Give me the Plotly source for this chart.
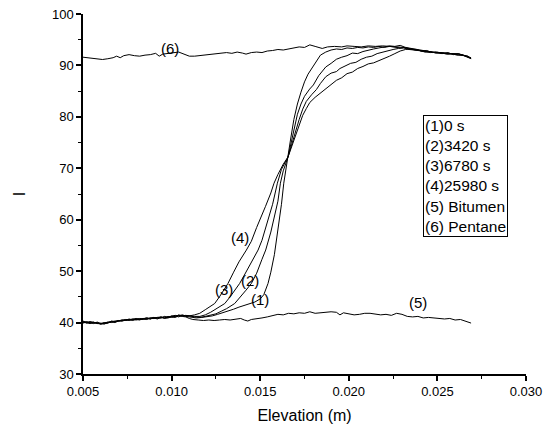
import plotly.graph_objects as go

# ---------------- data ----------------
x_low = [0.0050, 0.0052, 0.0054, 0.0056, 0.0058, 0.0060, 0.0062, 0.0064, 0.0066, 0.0068,
         0.0070, 0.0072, 0.0074, 0.0076, 0.0078, 0.0080, 0.0082, 0.0084, 0.0086, 0.0088,
         0.0090, 0.0092, 0.0094, 0.0096, 0.0098, 0.0100, 0.0102, 0.0104, 0.0106, 0.0108]

# (1) 0 s
s1_low = [40.0, 40.2, 39.9, 40.1, 39.8, 39.9, 39.7, 40.0, 40.1, 40.3, 40.2, 40.5, 40.4, 40.5, 40.7,
          40.6, 40.5, 40.8, 40.7, 40.9, 40.8, 41.0, 40.9, 41.1, 41.0, 41.2, 41.3, 41.1, 41.4, 41.2]
s1_x = [0.0111, 0.0114, 0.0117, 0.0120, 0.0123, 0.0126, 0.0129, 0.0132, 0.0135, 0.0138, 0.0141,
        0.0144, 0.0147, 0.0150, 0.0152, 0.01544, 0.0156, 0.0158, 0.0160, 0.0161, 0.0162, 0.01633,
        0.0165, 0.01657, 0.0167, 0.0169, 0.0171, 0.0173, 0.0175, 0.0177, 0.0180, 0.0182, 0.0184,
        0.0187, 0.0190, 0.0193, 0.0196, 0.0199, 0.0202, 0.0205, 0.0208, 0.0211, 0.0214, 0.0217,
        0.0220, 0.0223, 0.0226, 0.0229, 0.0232, 0.0235, 0.0238, 0.0241, 0.0244, 0.0247, 0.0250,
        0.0253, 0.0256, 0.0259, 0.0262, 0.0265, 0.0267, 0.0269]
s1_y = [41.0, 40.9, 41.0, 41.1, 41.3, 41.6, 41.9, 42.2, 42.6, 43.0, 43.3, 43.6, 44.0, 44.6, 45.4,
        47.6, 49.8, 53.2, 58.0, 60.6, 63.0, 67.1, 70.5, 72.2, 75.3, 79.5, 82.5, 84.8, 86.8, 88.3,
        90.0, 91.0, 92.0, 92.6, 93.0, 93.2, 93.1, 93.4, 93.3, 93.5, 93.4, 93.6, 93.5, 93.7, 93.5,
        93.7, 93.6, 93.4, 93.5, 93.2, 93.1, 92.8, 92.9, 92.5, 92.6, 92.3, 92.5, 92.1, 92.3, 91.9,
        91.8, 91.3]

# (2) 3420 s
s2_low = [40.3, 40.0, 40.2, 40.0, 39.9, 39.8, 40.0, 39.9, 40.3, 40.2, 40.4, 40.5, 40.4, 40.7, 40.5,
          40.6, 40.8, 40.7, 40.6, 40.9, 41.0, 40.8, 41.1, 40.9, 41.2, 41.0, 41.2, 41.4, 41.3, 41.3]
s2_x = [0.0110, 0.0113, 0.0116, 0.0119, 0.0122, 0.0125, 0.0128, 0.0131, 0.01356, 0.0139, 0.0142,
        0.0145, 0.0148, 0.0151, 0.01531, 0.0156, 0.01582, 0.0160, 0.01614, 0.0163, 0.01657, 0.0168,
        0.0171, 0.0173, 0.0175, 0.01779, 0.0180, 0.0183, 0.0185, 0.0187, 0.0190, 0.0193, 0.0196,
        0.0199, 0.0202, 0.0205, 0.0208, 0.0211, 0.0214, 0.0217, 0.0220, 0.0223, 0.0226, 0.0229,
        0.0232, 0.0235, 0.0238, 0.0241, 0.0244, 0.0247, 0.0250, 0.0253, 0.0256, 0.0259, 0.0262,
        0.0265, 0.0267, 0.0269]
s2_y = [41.3, 41.1, 41.0, 41.2, 41.4, 41.7, 42.2, 42.7, 43.7, 45.0, 46.3, 47.6, 49.6, 52.3, 54.1,
        57.6, 60.6, 63.6, 67.1, 69.5, 72.2, 76.0, 80.5, 82.5, 84.0, 85.4, 86.2, 88.0, 88.8, 89.7,
        90.4, 91.2, 91.6, 91.9, 92.4, 92.3, 92.7, 93.0, 93.2, 93.4, 93.6, 93.8, 93.7, 93.9, 93.5,
        93.3, 93.2, 92.9, 92.8, 92.6, 92.5, 92.4, 92.3, 92.2, 92.2, 91.9, 91.7, 91.4]

# (3) 6780 s
s3_low = [39.9, 40.1, 40.0, 39.8, 40.1, 39.8, 39.9, 40.1, 40.0, 40.2, 40.4, 40.3, 40.5, 40.6, 40.4,
          40.7, 40.6, 40.8, 40.9, 40.7, 41.0, 40.9, 40.9, 41.2, 41.0, 41.3, 41.1, 41.5, 41.3, 41.4]
s3_x = [0.0110, 0.0113, 0.0116, 0.0119, 0.0122, 0.0125, 0.0128, 0.0130, 0.0133, 0.01355, 0.01384,
        0.0141, 0.0144, 0.0147, 0.01488, 0.0151, 0.0153, 0.0155, 0.0157, 0.01597, 0.0162, 0.01657,
        0.0168, 0.0170, 0.0172, 0.0174, 0.0176, 0.0179, 0.01817, 0.0184, 0.0187, 0.0190, 0.0193,
        0.0195, 0.0198, 0.0201, 0.0204, 0.0207, 0.0210, 0.0213, 0.0216, 0.0219, 0.0222, 0.0225,
        0.0228, 0.0231, 0.0234, 0.0237, 0.0240, 0.0243, 0.0246, 0.0249, 0.0252, 0.0255, 0.0258,
        0.0261, 0.0264, 0.0267, 0.0269]
s3_y = [41.3, 41.2, 41.2, 41.5, 42.0, 42.6, 43.2, 43.7, 45.0, 46.2, 47.6, 49.2, 51.2, 53.0, 54.1,
        56.0, 58.5, 60.6, 63.0, 67.1, 69.8, 72.2, 75.0, 77.5, 79.5, 81.5, 83.0, 84.3, 85.3, 86.5,
        87.8, 88.5, 88.8, 89.4, 89.9, 90.4, 90.6, 91.2, 91.6, 91.8, 92.3, 92.6, 92.8, 93.1, 93.3,
        93.4, 93.1, 93.0, 92.9, 92.6, 92.7, 92.4, 92.5, 92.2, 92.3, 92.0, 92.1, 91.7, 91.5]

# (4) 25980 s
s4_low = [40.1, 40.0, 39.8, 40.0, 39.9, 39.7, 39.9, 40.0, 40.2, 40.0, 40.3, 40.4, 40.6, 40.5, 40.6,
          40.8, 40.6, 40.7, 40.9, 40.8, 40.8, 41.0, 41.1, 40.9, 41.1, 41.2, 41.4, 41.3, 41.5, 41.3]
s4_x = [0.0110, 0.0113, 0.01159, 0.0119, 0.0122, 0.01243, 0.0127, 0.0130, 0.01318, 0.0135, 0.0138,
        0.01422, 0.0145, 0.0148, 0.01507, 0.0153, 0.0156, 0.01578, 0.0160, 0.0163, 0.01657, 0.0168,
        0.0170, 0.0172, 0.0174, 0.0176, 0.0178, 0.0181, 0.0184, 0.01874, 0.0190, 0.0193, 0.0196,
        0.0199, 0.0202, 0.0205, 0.0208, 0.0211, 0.0214, 0.0217, 0.0220, 0.0223, 0.0226, 0.0229,
        0.0232, 0.0235, 0.0238, 0.0241, 0.0244, 0.0247, 0.0250, 0.0253, 0.0256, 0.0259, 0.0262,
        0.0265, 0.0267, 0.0269]
s4_y = [41.3, 41.5, 41.8, 42.5, 43.2, 43.7, 45.0, 46.6, 47.6, 49.8, 51.8, 54.1, 55.8, 58.5, 60.6,
        62.6, 65.2, 67.1, 68.8, 70.8, 72.2, 74.5, 76.5, 78.6, 80.3, 81.6, 82.8, 83.8, 84.6, 85.6,
        86.3, 87.1, 87.6, 88.4, 88.7, 89.4, 89.8, 90.3, 90.5, 90.9, 91.4, 91.8, 92.3, 92.8, 93.1,
        93.2, 93.0, 92.8, 92.7, 92.6, 92.4, 92.5, 92.2, 92.3, 92.0, 91.9, 91.6, 91.3]

# (5) Bitumen
s5_low = [40.2, 39.9, 40.1, 39.9, 40.0, 39.7, 39.8, 39.9, 40.2, 40.1, 40.4, 40.3, 40.6, 40.4, 40.6,
          40.5, 40.7, 40.6, 40.8, 40.7, 40.9, 40.7, 41.0, 40.8, 40.9, 41.1, 41.0, 41.3, 41.2, 41.1]
s5_x = [0.0110, 0.0112, 0.0115, 0.0118, 0.0121, 0.0124, 0.0127, 0.0130, 0.0133, 0.0136, 0.0139,
        0.0141, 0.0143, 0.0145, 0.0148, 0.0151, 0.0154, 0.0157, 0.0160, 0.0163, 0.0166, 0.0169,
        0.0172, 0.0175, 0.0178, 0.0181, 0.0184, 0.0187, 0.0190, 0.0193, 0.0195, 0.0197, 0.0200,
        0.0203, 0.0206, 0.0209, 0.0212, 0.0215, 0.0218, 0.0221, 0.0224, 0.0227, 0.0230, 0.0233,
        0.0236, 0.0239, 0.0242, 0.0245, 0.0248, 0.0251, 0.0254, 0.0257, 0.0260, 0.0263, 0.0266,
        0.0269]
s5_y = [40.8, 40.6, 40.5, 40.4, 40.5, 40.4, 40.5, 40.6, 40.5, 40.7, 40.8, 40.5, 40.3, 40.6, 40.7,
        40.9, 41.1, 41.3, 41.6, 41.5, 41.8, 41.7, 41.9, 41.8, 42.1, 41.8, 41.9, 42.0, 42.1, 42.0,
        41.5, 41.9, 41.7, 41.5, 41.6, 41.8, 41.8, 41.6, 41.5, 41.6, 41.4, 41.8, 41.6, 41.2, 41.1,
        41.2, 40.9, 41.0, 40.9, 40.9, 40.7, 40.8, 40.5, 40.6, 40.2, 39.9]

# (6) Pentane
s6_x = [0.0050, 0.0053, 0.0056, 0.0059, 0.0061, 0.0064, 0.0067, 0.0069, 0.0071, 0.0073, 0.0076,
        0.0079, 0.0082, 0.0085, 0.0088, 0.0091, 0.0093, 0.0095, 0.0098, 0.0101, 0.0104, 0.0107,
        0.0110, 0.0113, 0.0116, 0.0119, 0.0122, 0.0125, 0.0128, 0.0131, 0.0134, 0.0137, 0.0140,
        0.0142, 0.0145, 0.0148, 0.0151, 0.0154, 0.0157, 0.0160, 0.0163, 0.0166, 0.0169, 0.0172,
        0.0175, 0.0178, 0.0181, 0.0185, 0.0188, 0.0192, 0.0196, 0.0199, 0.0203, 0.0207, 0.0211,
        0.0215, 0.0219, 0.0223, 0.0227, 0.0231, 0.0234, 0.0237, 0.0240, 0.0243, 0.0246, 0.0249,
        0.0252, 0.0255, 0.0258, 0.0261, 0.0264, 0.0267, 0.0269]
s6_y = [91.6, 91.5, 91.4, 91.3, 91.15, 91.3, 91.5, 91.8, 91.5, 91.9, 92.1, 91.9, 91.8, 92.0, 92.1,
        92.35, 91.8, 92.2, 92.3, 92.4, 92.6, 92.2, 91.8, 91.8, 91.9, 92.0, 92.1, 92.3, 92.3, 92.5,
        92.35, 92.6, 92.4, 92.2, 92.5, 92.6, 92.5, 92.8, 92.9, 93.1, 93.0, 93.2, 93.3, 93.6, 93.5,
        94.0, 93.7, 93.3, 93.6, 93.7, 93.6, 93.8, 93.7, 93.6, 93.8, 93.7, 93.8, 93.7, 93.6, 93.5,
        93.2, 93.0, 92.8, 92.7, 92.5, 92.6, 92.3, 92.4, 92.2, 92.3, 92.0, 91.8, 91.4]

legend_labels = ["(1)0 s", "(2)3420 s", "(3)6780 s", "(4)25980 s", "(5) Bitumen", "(6) Pentane"]

curve_tags = ["(1)", "(2)", "(3)", "(4)", "(5)", "(6)"]
tag_x = [0.01497, 0.01444, 0.01294, 0.01388, 0.02393, 0.00989]
tag_y = [44.5, 48.2, 46.4, 56.5, 43.9, 93.3]

x_ticks = [0.005, 0.010, 0.015, 0.020, 0.025, 0.030]
x_tick_text = ["0.005", "0.010", "0.015", "0.020", "0.025", "0.030"]
y_ticks = [30, 40, 50, 60, 70, 80, 90, 100]

# ---------------- figure ----------------
FONT = "Liberation Sans, Arial, sans-serif"
series = [
    (x_low + s1_x, s1_low + s1_y, legend_labels[0]),
    (x_low + s2_x, s2_low + s2_y, legend_labels[1]),
    (x_low + s3_x, s3_low + s3_y, legend_labels[2]),
    (x_low + s4_x, s4_low + s4_y, legend_labels[3]),
    (x_low + s5_x, s5_low + s5_y, legend_labels[4]),
    (s6_x, s6_y, legend_labels[5]),
]

fig = go.Figure()
for xs, ys, name in series:
    fig.add_trace(go.Scatter(x=xs, y=ys, mode="lines", name=name,
                             line=dict(color="black", width=1), showlegend=False))

for t, tx, ty in zip(curve_tags, tag_x, tag_y):
    fig.add_annotation(x=tx, y=ty, xref="x", yref="y", text=t, showarrow=False,
                       font=dict(family=FONT, size=15, color="black"))

fig.add_annotation(x=0.02417, y=80.36, xref="x", yref="y", xanchor="left", yanchor="top",
                   text="<br>".join(legend_labels), align="left", showarrow=False,
                   bordercolor="black", borderwidth=1, borderpad=1, bgcolor="white",
                   font=dict(family=FONT, size=15.5, color="black"))

fig.update_layout(
    width=544, height=431,
    margin=dict(l=83, r=18, t=14, b=57, autoexpand=False),
    paper_bgcolor="white", plot_bgcolor="white",
    font=dict(family=FONT, color="black"),
    xaxis=dict(range=[0.005, 0.030], tickvals=x_ticks, ticktext=x_tick_text, automargin=False,
               ticklabeloverflow="allow",
               showgrid=False, zeroline=False, showline=True, linecolor="black", linewidth=1.5,
               ticks="outside", ticklen=5, tickwidth=1.5, tickcolor="black",
               minor=dict(dtick=0.0025, tick0=0.005, ticks="outside", ticklen=3, tickwidth=1, tickcolor="black"),
               tickfont=dict(family=FONT, size=13),
               title=dict(text="Elevation (m)", font=dict(family=FONT, size=16), standoff=11)),
    yaxis=dict(range=[30, 100], tickvals=y_ticks, automargin=False,
               ticklabeloverflow="allow",
               showgrid=False, zeroline=False, showline=True, linecolor="black", linewidth=1.5,
               ticks="outside", ticklen=5, tickwidth=1.5, tickcolor="black",
               minor=dict(dtick=5, tick0=30, ticks="outside", ticklen=3, tickwidth=1, tickcolor="black"),
               tickfont=dict(family=FONT, size=13),
               title=dict(text="I", font=dict(family=FONT, size=16), standoff=22)),
)

fig.write_html("out.html", config={"displayModeBar": False},
               post_script="document.body.style.margin='0';document.body.style.overflow='hidden';")
